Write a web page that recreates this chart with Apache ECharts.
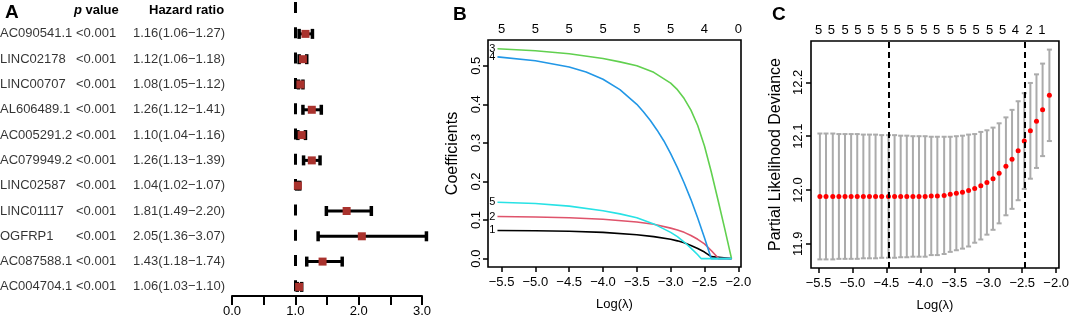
<!DOCTYPE html>
<html>
<head>
<meta charset="utf-8">
<script src="https://cdn.jsdelivr.net/npm/echarts@6/dist/echarts.min.js"></script>
<style>
  html, body { margin: 0; padding: 0; background: #fff; }
  #main { width: 1072px; height: 321px; }
</style>
</head>
<body>
<div id="main"></div>
<script>
// A: univariate cox forest plot
const genes = ['AC090541.1', 'LINC02178', 'LINC00707', 'AL606489.1', 'AC005291.2', 'AC079949.2',
  'LINC02587', 'LINC01117', 'OGFRP1', 'AC087588.1', 'AC004704.1'];
const pValues = ['<0.001', '<0.001', '<0.001', '<0.001', '<0.001', '<0.001',
  '<0.001', '<0.001', '<0.001', '<0.001', '<0.001'];
const hr = [1.16, 1.12, 1.08, 1.26, 1.10, 1.26, 1.04, 1.81, 2.05, 1.43, 1.06];
const hrLow = [1.06, 1.06, 1.05, 1.12, 1.04, 1.13, 1.02, 1.49, 1.36, 1.18, 1.03];
const hrHigh = [1.27, 1.18, 1.12, 1.41, 1.16, 1.39, 1.07, 2.20, 3.07, 1.74, 1.10];
const hrTicks = [0, 1, 2, 3];

// B: lasso coefficient paths  [log(lambda), coefficient]
const coef1 = [[-5.56, 0.073], [-5.0, 0.072], [-4.5, 0.071], [-4.0, 0.068], [-3.5, 0.062], [-3.25, 0.057],
  [-3.0, 0.050], [-2.9, 0.046], [-2.8, 0.041], [-2.7, 0.034], [-2.6, 0.026], [-2.5, 0.017], [-2.4, 0.005],
  [-2.38, 0], [-2.1, 0]];
const coef2 = [[-5.56, 0.109], [-5.0, 0.108], [-4.5, 0.106], [-4.0, 0.102], [-3.5, 0.095], [-3.25, 0.089],
  [-3.0, 0.079], [-2.9, 0.074], [-2.8, 0.068], [-2.7, 0.060], [-2.6, 0.050], [-2.5, 0.038], [-2.4, 0.021],
  [-2.29, 0], [-2.1, 0]];
const coef3 = [[-5.56, 0.544], [-5.0, 0.539], [-4.5, 0.531], [-4.0, 0.519], [-3.75, 0.510], [-3.5, 0.500],
  [-3.25, 0.483], [-3.0, 0.455], [-2.9, 0.438], [-2.8, 0.415], [-2.7, 0.385], [-2.6, 0.345], [-2.5, 0.292],
  [-2.4, 0.225], [-2.3, 0.152], [-2.2, 0.077], [-2.1, 0]];
const coef4 = [[-5.56, 0.523], [-5.0, 0.513], [-4.5, 0.497], [-4.25, 0.484], [-4.0, 0.465], [-3.75, 0.438],
  [-3.5, 0.400], [-3.4, 0.380], [-3.3, 0.358], [-3.2, 0.333], [-3.1, 0.305], [-3.0, 0.272], [-2.9, 0.236],
  [-2.8, 0.196], [-2.7, 0.153], [-2.6, 0.105], [-2.5, 0.054], [-2.4, 0], [-2.1, 0]];
const coef5 = [[-5.56, 0.146], [-5.0, 0.143], [-4.5, 0.136], [-4.0, 0.124], [-3.75, 0.116], [-3.5, 0.106],
  [-3.25, 0.090], [-3.0, 0.068], [-2.9, 0.057], [-2.8, 0.043], [-2.7, 0.027], [-2.6, 0.010], [-2.55, 0],
  [-2.1, 0]];
const coefSeries = [coef1, coef2, coef3, coef4, coef5];
const coefColors = ['#000000', '#DF536B', '#61D04F', '#2297E6', '#28E2E5'];
const bTicks = [-5.5, -5.0, -4.5, -4.0, -3.5, -3.0, -2.5, -2.0];
const bTopCounts = [5, 5, 5, 5, 5, 5, 4, 0];
const bYTicks = [0, 0.1, 0.2, 0.3, 0.4, 0.5];

// C: cross-validation
const cvLambda = [-5.48, -5.39, -5.29, -5.20, -5.11, -5.02, -4.93, -4.84, -4.75, -4.66, -4.57, -4.47,
  -4.38, -4.29, -4.20, -4.11, -4.02, -3.93, -3.84, -3.75, -3.65, -3.56, -3.47, -3.38, -3.29, -3.20,
  -3.11, -3.02, -2.93, -2.84, -2.74, -2.65, -2.56, -2.47, -2.38, -2.29, -2.20, -2.10];
const cvMean = [11.988, 11.988, 11.988, 11.988, 11.988, 11.988, 11.988, 11.988, 11.988, 11.988, 11.988,
  11.988, 11.988, 11.988, 11.988, 11.988, 11.988, 11.988, 11.989, 11.989, 11.990, 11.992, 11.994, 11.996,
  11.999, 12.003, 12.008, 12.014, 12.021, 12.031, 12.044, 12.057, 12.073, 12.091, 12.110, 12.128, 12.149, 12.176];
const cvUp = [12.105, 12.105, 12.105, 12.104, 12.104, 12.104, 12.104, 12.103, 12.103, 12.103, 12.102,
  12.102, 12.102, 12.101, 12.101, 12.100, 12.100, 12.100, 12.099, 12.099, 12.099, 12.099, 12.100, 12.101,
  12.103, 12.104, 12.108, 12.111, 12.116, 12.124, 12.135, 12.149, 12.165, 12.180, 12.199, 12.215, 12.235, 12.261];
const cvLow = [11.871, 11.871, 11.871, 11.872, 11.872, 11.872, 11.872, 11.873, 11.873, 11.873, 11.874,
  11.874, 11.874, 11.875, 11.875, 11.876, 11.876, 11.876, 11.879, 11.879, 11.881, 11.885, 11.888, 11.891,
  11.895, 11.902, 11.908, 11.917, 11.926, 11.938, 11.953, 11.965, 11.981, 12.002, 12.021, 12.041, 12.063, 12.091];
const cvCut = [-4.46, -2.46];
const cTopPos = [-5.50, -5.31, -5.11, -4.92, -4.73, -4.53, -4.34, -4.15, -3.95, -3.76, -3.56, -3.37,
  -3.18, -2.98, -2.79, -2.60, -2.40, -2.21];
const cTopCounts = [5, 5, 5, 5, 5, 5, 5, 5, 5, 5, 5, 5, 5, 5, 5, 4, 2, 1];
const cYTicks = [11.9, 12.0, 12.1, 12.2];

const FONT = '"Liberation Sans", Arial, Helvetica, sans-serif';
const minus = v => (v < 0 ? '\u2212' : '') + Math.abs(v).toFixed(1);

const chart = echarts.init(document.getElementById('main'), null, { renderer: 'canvas' });

// bottom log(lambda) axis + top count axis for one lasso panel
function lambdaAxes(grid, min, max, topPos, topCounts) {
  return [{
    type: 'value', gridIndex: grid, min: min, max: max,
    name: 'Log(\u03bb)', nameLocation: 'middle', nameGap: 31,
    nameTextStyle: { fontSize: 13, color: '#000', fontFamily: FONT },
    axisLine: { show: false, onZero: false },
    axisTick: { show: true, length: 5, customValues: bTicks, lineStyle: { color: '#000', width: 1.5 } },
    axisLabel: { customValues: bTicks, formatter: minus, margin: 9, fontSize: 13, color: '#000', fontFamily: FONT },
    splitLine: { show: false }
  }, {
    type: 'value', gridIndex: grid, position: 'top', min: min, max: max,
    axisLine: { show: false, onZero: false },
    axisTick: { show: false },
    axisLabel: {
      customValues: topPos, margin: 4, fontSize: 13, color: '#000', fontFamily: FONT,
      formatter: function (v) {
        let k = topPos.indexOf(v);
        if (k < 0) k = topPos.findIndex(p => Math.abs(p - v) < 1e-6);
        return k < 0 ? '' : String(topCounts[k]);
      }
    },
    splitLine: { show: false }
  }];
}

const rowText = { fontSize: 13, fontFamily: FONT, color: '#000', align: 'left' };

const option = {
  animation: false,
  textStyle: { fontFamily: FONT, color: '#000' },
  grid: [
    { left: 232, top: 2, width: 190, height: 294 },
    { left: 488, top: 40, width: 253, height: 227, show: true, borderColor: '#000', borderWidth: 1.6 },
    { left: 811, top: 41, width: 253, height: 227, show: true, borderColor: '#000', borderWidth: 1.6 }
  ],
  xAxis: [{
    type: 'value', gridIndex: 0, min: 0, max: 3, interval: 0.5,
    axisLine: { onZero: false, lineStyle: { color: '#000', width: 2 } },
    axisTick: { length: 9, lineStyle: { color: '#000', width: 2 } },
    axisLabel: {
      margin: 9, fontSize: 13, color: '#000', fontFamily: FONT,
      formatter: v => (hrTicks.indexOf(v) >= 0 ? v.toFixed(1) : '')
    },
    splitLine: { show: false }
  }]
    .concat(lambdaAxes(1, -5.70, -1.96, bTicks, bTopCounts))
    .concat(lambdaAxes(2, -5.611, -1.959, cTopPos, cTopCounts)),
  yAxis: [{
    type: 'value', gridIndex: 0, inverse: true, min: -1.26, max: 10.36, show: false
  }, {
    type: 'value', gridIndex: 1, min: -0.0218, max: 0.5668,
    name: 'Coefficients', nameLocation: 'middle', nameRotate: 90, nameGap: 27,
    nameTextStyle: { fontSize: 16, color: '#000', fontFamily: FONT },
    axisLine: { show: false, onZero: false },
    axisTick: { show: true, length: 5, customValues: bYTicks, lineStyle: { color: '#000', width: 1.5 } },
    axisLabel: { customValues: bYTicks, rotate: 90, margin: 5, fontSize: 13, color: '#000', fontFamily: FONT,
      formatter: v => v.toFixed(1) },
    splitLine: { show: false }
  }, {
    type: 'value', gridIndex: 2, min: 11.855, max: 12.277,
    name: 'Partial Likelihood Deviance', nameLocation: 'middle', nameRotate: 90, nameGap: 27,
    nameTextStyle: { fontSize: 16, color: '#000', fontFamily: FONT },
    axisLine: { show: false, onZero: false },
    axisTick: { show: true, length: 5, customValues: cYTicks, lineStyle: { color: '#000', width: 1.5 } },
    axisLabel: { customValues: cYTicks, rotate: 90, margin: 6, fontSize: 13, color: '#000', fontFamily: FONT,
      formatter: v => v.toFixed(1) },
    splitLine: { show: false }
  }],
  graphic: [
    { type: 'text', x: 5, y: 13, style: { text: 'A', font: 'bold 19px ' + FONT, fill: '#000', verticalAlign: 'middle' } },
    { type: 'text', x: 453, y: 15, style: { text: 'B', font: 'bold 19px ' + FONT, fill: '#000', verticalAlign: 'middle' } },
    { type: 'text', x: 772, y: 15, style: { text: 'C', font: 'bold 19px ' + FONT, fill: '#000', verticalAlign: 'middle' } },
    { type: 'text', x: 74, y: 10, style: {
      text: '{i|p} value', font: 'bold 13px ' + FONT, fill: '#000', verticalAlign: 'middle',
      rich: { i: { fontStyle: 'italic', fontWeight: 'bold', fontSize: 13, fontFamily: FONT } } } },
    { type: 'text', x: 149, y: 10, style: { text: 'Hazard ratio', font: 'bold 13px ' + FONT, fill: '#000', verticalAlign: 'middle' } }
  ],
  series: [
    // forest table text
    {
      type: 'scatter', xAxisIndex: 0, yAxisIndex: 0, symbolSize: 0, clip: false, silent: true,
      data: genes.map((g, i) => [0, i]),
      label: {
        show: true, position: 'left', distance: 10, fontSize: 13, color: '#000', fontFamily: FONT,
        formatter: p => {
          const i = p.dataIndex;
          return '{n|' + genes[i] + '}{p|' + pValues[i] + '}{h|' + hr[i].toFixed(2) + '(' +
            hrLow[i].toFixed(2) + '\u2212' + hrHigh[i].toFixed(2) + ')}';
        },
        rich: {
          n: Object.assign({ width: 76 }, rowText),
          p: Object.assign({ width: 57 }, rowText),
          h: Object.assign({ width: 89 }, rowText)
        }
      }
    },
    // CI whiskers
    {
      type: 'custom', xAxisIndex: 0, yAxisIndex: 0, z: 2, clip: false,
      data: genes.map((g, i) => [i, hrLow[i], hrHigh[i]]),
      encode: { x: [1, 2], y: 0 },
      renderItem: function (params, api) {
        const a = api.coord([api.value(1), api.value(0)]);
        const b = api.coord([api.value(2), api.value(0)]);
        const st = { stroke: '#000', lineWidth: 3 };
        const cap = { stroke: '#000', lineWidth: 3.5 };
        return {
          type: 'group', children: [
            { type: 'line', shape: { x1: a[0], y1: a[1], x2: b[0], y2: b[1] }, style: st },
            { type: 'line', shape: { x1: a[0], y1: a[1] - 5, x2: a[0], y2: a[1] + 5 }, style: cap },
            { type: 'line', shape: { x1: b[0], y1: b[1] - 5, x2: b[0], y2: b[1] + 5 }, style: cap }
          ]
        };
      }
    },
    // hazard ratio squares
    {
      type: 'scatter', xAxisIndex: 0, yAxisIndex: 0, z: 3, clip: false,
      symbol: 'rect', symbolSize: 8,
      itemStyle: { color: '#a9322d', opacity: 1 },
      data: genes.map((g, i) => [hr[i], i]),
      markLine: {
        silent: true, symbol: 'none', z: 1, label: { show: false },
        lineStyle: { color: '#000', width: 3, type: [11, 14.3] },
        data: [{ xAxis: 1 }]
      }
    }
  ]
    .concat(coefSeries.map((c, k) => ({
      type: 'line', name: String(k + 1), xAxisIndex: 1, yAxisIndex: 1,
      data: c, smooth: false, symbol: 'circle', symbolSize: 0, showSymbol: true,
      lineStyle: { color: coefColors[k], width: 1.6, join: 'round' },
      itemStyle: { color: coefColors[k] },
      label: {
        show: true, position: 'left', distance: 2, fontSize: 11, color: '#000', fontFamily: FONT,
        formatter: p => (p.dataIndex === 0 ? p.seriesName : '')
      }
    })))
    .concat([
      // cv error bars
      {
        type: 'custom', xAxisIndex: 3, yAxisIndex: 2, z: 2,
        data: cvLambda.map((x, i) => [x, cvLow[i], cvUp[i]]),
        encode: { x: 0, y: [1, 2] },
        renderItem: function (params, api) {
          const lo = api.coord([api.value(0), api.value(1)]);
          const hi = api.coord([api.value(0), api.value(2)]);
          const st = { stroke: '#ababab', lineWidth: 2 };
          return {
            type: 'group', children: [
              { type: 'line', shape: { x1: lo[0], y1: lo[1], x2: hi[0], y2: hi[1] }, style: st },
              { type: 'line', shape: { x1: lo[0] - 2.5, y1: lo[1], x2: lo[0] + 2.5, y2: lo[1] }, style: st },
              { type: 'line', shape: { x1: hi[0] - 2.5, y1: hi[1], x2: hi[0] + 2.5, y2: hi[1] }, style: st }
            ]
          };
        }
      },
      {
        type: 'scatter', xAxisIndex: 3, yAxisIndex: 2, z: 3,
        symbolSize: 5, itemStyle: { color: '#ff0000', opacity: 1 },
        data: cvLambda.map((x, i) => [x, cvMean[i]]),
        markLine: {
          silent: true, symbol: 'none', z: 4, label: { show: false },
          lineStyle: { color: '#000', width: 2, type: [6, 4] },
          data: cvCut.map(v => ({ xAxis: v }))
        }
      }
    ])
};

chart.setOption(option);
</script>
</body>
</html>
